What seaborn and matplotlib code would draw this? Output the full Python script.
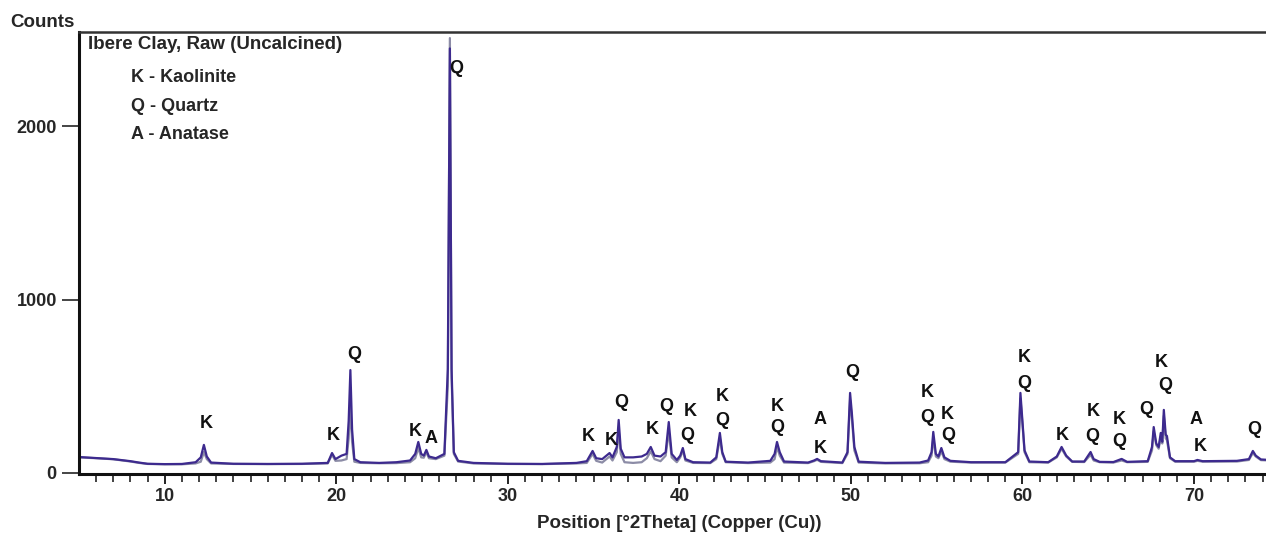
import matplotlib
matplotlib.use("Agg")
import matplotlib.pyplot as plt
import seaborn as sns
import pandas as pd

two_theta = [5.0, 6.0, 7.0, 8.0, 8.5, 9.0, 10.0, 11.0, 11.8, 12.1, 12.28, 12.45, 12.7,
             14.0, 16.0, 18.0, 19.5, 19.75, 19.95, 20.3, 20.6, 20.72, 20.82, 20.92, 21.05,
             21.4, 22.5, 23.5, 24.3, 24.6, 24.78, 24.95, 25.1, 25.25, 25.4, 25.8, 26.3,
             26.5, 26.62, 26.72, 26.85, 27.1, 28.0, 30.0, 32.0, 34.0, 34.6, 34.94, 35.15,
             35.5, 35.93, 36.1, 36.35, 36.46, 36.58, 36.8, 37.3, 37.8, 38.1, 38.33, 38.55,
             38.9, 39.2, 39.38, 39.55, 39.85, 40.05, 40.2, 40.35, 40.8, 41.8, 42.15, 42.36,
             42.5, 42.7, 44.0, 45.3, 45.55, 45.69, 45.85, 46.1, 47.5, 47.85, 48.03, 48.25,
             49.5, 49.8, 49.95, 50.05, 50.2, 50.45, 52.0, 54.0, 54.5, 54.7, 54.8, 54.95,
             55.1, 55.27, 55.45, 55.8, 57.0, 59.0, 59.75, 59.88, 60.0, 60.12, 60.4, 61.5,
             62.0, 62.28, 62.55, 62.9, 63.6, 63.97, 64.15, 64.5, 65.3, 65.78, 66.1, 67.3,
             67.55, 67.65, 67.8, 67.94, 68.06, 68.15, 68.24, 68.35, 68.42, 68.6, 68.9,
             70.0, 70.2, 70.5, 72.5, 73.2, 73.43, 73.6, 73.9, 74.4]

counts_scan1 = [92, 86, 80, 68, 60, 53, 51, 52, 62, 90, 162, 95, 60,
                53, 52, 53, 58, 115, 80, 100, 110, 300, 594, 250, 80,
                62, 58, 62, 72, 110, 179, 110, 100, 133, 95, 85, 110,
                600, 2450, 600, 120, 70, 58, 53, 52, 58, 68, 127, 85,
                80, 115, 90, 150, 306, 140, 90, 90, 95, 110, 150, 100,
                95, 120, 294, 110, 75, 100, 144, 80, 62, 60, 90, 231,
                120, 65, 60, 70, 110, 179, 120, 66, 60, 72, 81, 68,
                60, 120, 462, 350, 150, 65, 58, 60, 72, 120, 237, 110,
                95, 144, 90, 70, 62, 62, 120, 462, 300, 130, 66, 62,
                95, 150, 100, 66, 66, 121, 80, 64, 63, 81, 64, 68,
                150, 265, 170, 150, 231, 180, 364, 220, 214, 90, 68,
                68, 75, 68, 70, 80, 127, 100, 78, 75]

counts_scan2 = [90, 85, 79, 66, 58, 52, 50, 50, 55, 65, 121, 80, 55,
                52, 51, 52, 55, 105, 70, 72, 80, 200, 380, 180, 65,
                58, 56, 57, 62, 85, 144, 90, 88, 120, 85, 80, 100,
                500, 2510, 550, 110, 66, 55, 52, 51, 55, 58, 110, 70,
                60, 95, 72, 120, 250, 110, 62, 58, 62, 85, 125, 80,
                68, 100, 240, 90, 62, 90, 130, 72, 58, 57, 80, 200,
                110, 62, 57, 60, 80, 150, 100, 60, 57, 68, 76, 64,
                57, 110, 420, 320, 130, 60, 55, 56, 62, 100, 200, 95,
                85, 125, 80, 65, 60, 60, 110, 430, 280, 120, 62, 60,
                90, 140, 95, 64, 63, 105, 72, 62, 60, 72, 62, 64,
                130, 240, 160, 140, 210, 170, 330, 200, 190, 85, 65,
                65, 70, 65, 66, 75, 115, 95, 74, 72]

peak_labels = ["K", "K", "Q", "K", "A", "Q", "K", "K", "Q", "K", "Q", "K", "Q",
               "K", "Q", "K", "Q", "A", "K", "Q", "K", "Q", "K", "Q", "K", "Q",
               "K", "K", "Q", "K", "Q", "Q", "K", "Q", "A", "K", "Q"]
label_theta = [12.39, 19.81, 21.04, 24.6, 25.54, 27.0, 34.71, 36.0, 36.6, 38.39,
               39.25, 40.65, 40.45, 42.5, 42.5, 45.69, 45.69, 48.2, 48.2, 50.07,
               54.45, 54.45, 55.6, 55.65, 60.12, 60.12, 62.3, 64.15, 64.09, 65.67,
               65.67, 67.2, 68.1, 68.3, 70.1, 70.35, 73.5]
label_counts = [283, 214, 681, 237, 197, 2337, 209, 185, 405, 253,
                381, 352, 219, 439, 300, 381, 260, 306, 144, 577,
                467, 318, 335, 219, 669, 519, 219, 352, 213, 306,
                179, 364, 640, 502, 306, 150, 248]

legend_lines = ["K - Kaolinite", "Q - Quartz", "A - Anatase"]
sample_title = "Ibere Clay, Raw (Uncalcined)"
x_ticks = [10, 20, 30, 40, 50, 60, 70]
y_ticks = [0, 1000, 2000]

# ---- plotting ----
sns.set_style("ticks")
plt.rcParams["font.family"] = ["Liberation Sans", "DejaVu Sans"]
plt.rcParams["font.weight"] = "bold"

df = pd.concat([
    pd.DataFrame({"theta": two_theta, "counts": counts_scan2, "scan": "scan2"}),
    pd.DataFrame({"theta": two_theta, "counts": counts_scan1, "scan": "scan1"}),
])

fig = plt.figure(figsize=(12.66, 5.33), dpi=100)
ax = fig.add_axes([79 / 1266, 1 - 474 / 533, 1 - 79 / 1266 + 0.01, (474 - 32) / 533])

sns.lineplot(data=df, x="theta", y="counts", hue="scan", estimator=None, sort=False,
             palette={"scan2": "#8c8ca6", "scan1": "#3d2a8e"}, linewidth=1.6,
             legend=False, ax=ax)

ax.set_xlim(5, 5 + (1266 - 79) / 17.12 + 0.6)
ax.set_ylim(-6, 2545)
ax.set_xticks(x_ticks)
ax.set_xticks(range(6, 75), minor=True)
ax.set_yticks(y_ticks)
ax.set_xticklabels([str(t) for t in x_ticks], fontsize=13, fontweight="bold")
ax.set_yticklabels([str(t) for t in y_ticks], fontsize=13, fontweight="bold")
ax.tick_params(axis="x", which="major", direction="out", length=7, width=1.4, pad=3,
               color="#222222")
ax.tick_params(axis="x", which="minor", direction="out", length=6, width=1.2,
               color="#222222")
ax.tick_params(axis="y", which="major", direction="out", length=12, width=1.4, pad=4,
               color="#444444")

for side in ["left", "bottom"]:
    ax.spines[side].set_linewidth(2.2)
    ax.spines[side].set_color("#111111")
ax.spines["top"].set_visible(True)
ax.spines["top"].set_linewidth(1.8)
ax.spines["top"].set_color("#333333")
ax.spines["right"].set_visible(False)

ax.set_xlabel("Position [°2Theta] (Copper (Cu))", fontsize=13.5, fontweight="bold",
              labelpad=7)
ax.set_ylabel("")
fig.text(42 / 1266, 1 - 22 / 533, "Counts", ha="center", va="center",
         fontsize=13.5, fontweight="bold")

ax.text(0.0076, 0.9706, sample_title, transform=ax.transAxes, ha="left", va="center",
        fontsize=13.5, fontweight="bold")
for i, line in enumerate(legend_lines):
    ax.text(0.043, 0.896 - i * 0.0635, line, transform=ax.transAxes, ha="left",
            va="center", fontsize=13, fontweight="bold")

for lab, tx, ty in zip(peak_labels, label_theta, label_counts):
    ax.text(tx, ty, lab, ha="center", va="center", fontsize=13, fontweight="bold",
            color="#111111")

fig.savefig("out.png", dpi=100)
